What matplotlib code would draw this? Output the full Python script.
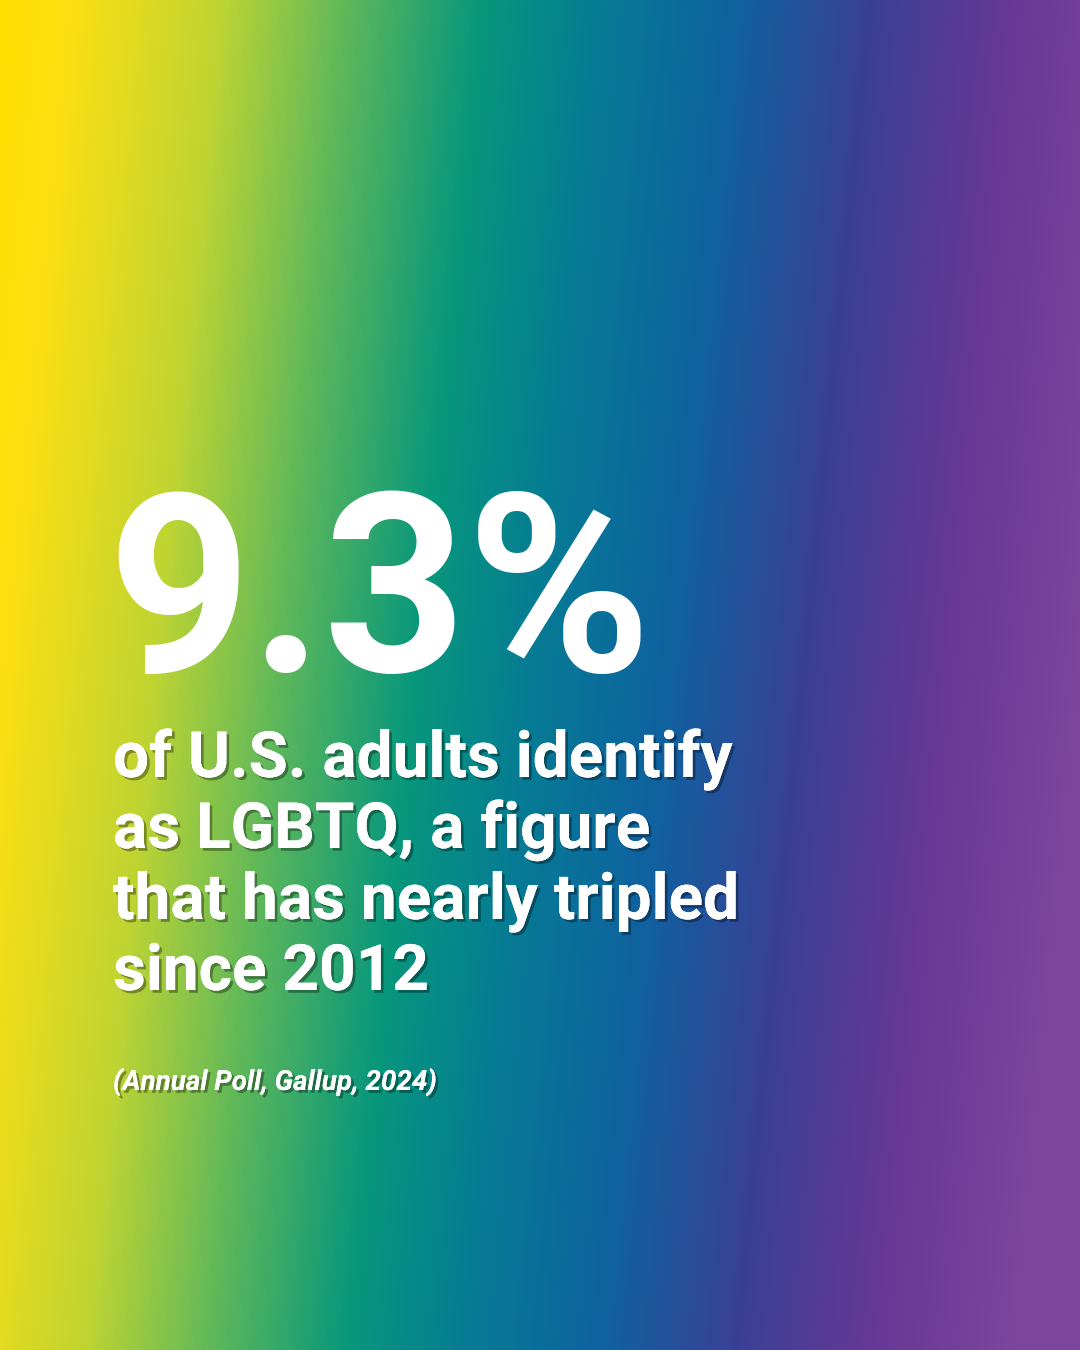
import numpy as np
import matplotlib
matplotlib.use("Agg")
import matplotlib.pyplot as plt
from matplotlib.colors import LinearSegmentedColormap
import matplotlib.patheffects as pe

value = 9.3
headline = f"{value}%"
body_lines = ["of U.S. adults identify", "as LGBTQ, a figure", "that has nearly tripled", "since 2012"]
source = "(Annual Poll, Gallup, 2024)"

stops = [(0.0, "#FFE000"), (0.06, "#FCDF12"), (0.19, "#BFD432"), (0.30, "#5FB85A"),
         (0.42, "#07977C"), (0.52, "#067C94"), (0.64, "#0F62A0"), (0.76, "#3A4096"),
         (0.88, "#673896"), (1.0, "#7B469C")]
cmap = LinearSegmentedColormap.from_list("rainbow", stops)

W, H = 1080, 1350
fig = plt.figure(figsize=(W/100, H/100), dpi=100)
ax = fig.add_axes([0, 0, 1, 1])
ax.set_xlim(0, W); ax.set_ylim(H, 0); ax.axis("off")
xx, yy = np.meshgrid(np.linspace(0, W, 540), np.linspace(0, H, 675))
t = (xx + 0.1 * yy) / 1150
ax.imshow(np.clip(t, 0, 1), cmap=cmap, extent=[0, W, H, 0], aspect="auto", vmin=0, vmax=1)

shadow = [pe.withSimplePatchShadow(offset=(2, -2), shadow_rgbFace="black", alpha=0.35), pe.Normal()]
ax.text(107, 672, headline, fontsize=180, fontweight="bold", family="Roboto", color="white", va="baseline", ha="left")
for i, line in enumerate(body_lines):
    ax.text(113, 777 + i * 71, line, fontsize=46, fontweight="bold", family="Roboto", color="white",
            va="baseline", ha="left", path_effects=shadow)
ax.text(113, 1090, source, fontsize=20, fontweight="bold", style="italic", family="Roboto", color="white",
        va="baseline", ha="left", path_effects=shadow)
fig.savefig("out.png", dpi=100)
